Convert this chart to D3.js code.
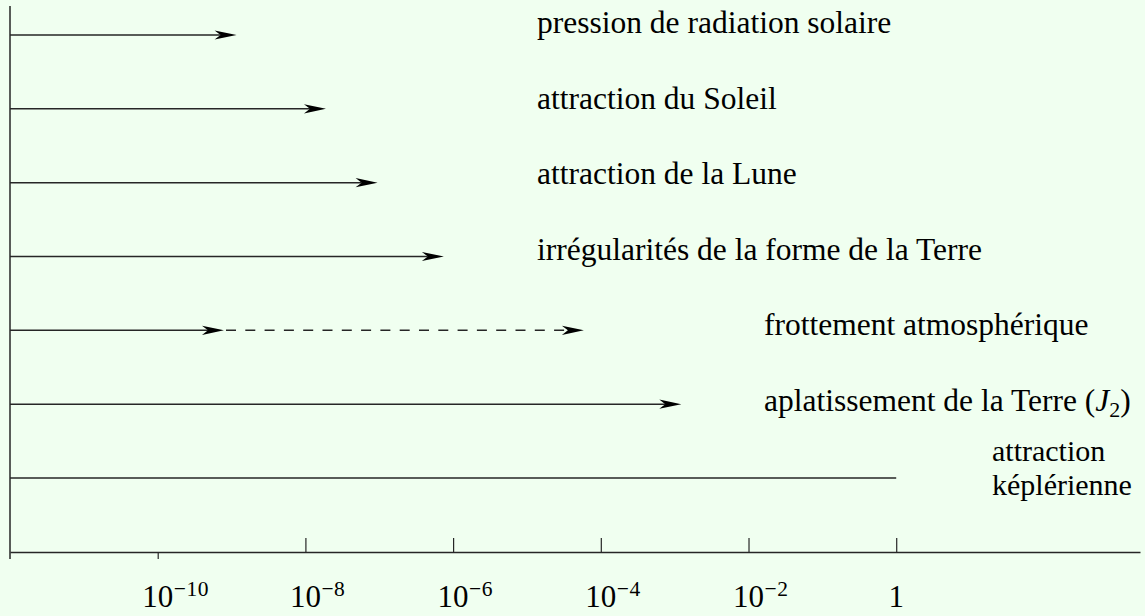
<!DOCTYPE html>
<html>
<head>
<meta charset="utf-8">
<script src="https://cdn.jsdelivr.net/npm/d3@7"></script>
<style>
  html, body { margin: 0; padding: 0; background: #f0fff0; }
  svg { display: block; }
  text { font-family: "Liberation Serif", "Times New Roman", serif; fill: #000; }
</style>
</head>
<body>
<svg id="chart" width="1145" height="616"></svg>
<script>
// Perturbing accelerations on a low Earth satellite, relative to the Keplerian term
const forces = [
  "pression de radiation solaire",
  "attraction du Soleil",
  "attraction de la Lune",
  "irrégularités de la forme de la Terre",
  "frottement atmosphérique",
  "aplatissement de la Terre",
  "attraction képlérienne"
];
// relative magnitude reached by each effect
const magnitudes = [1.17e-9, 1.9e-8, 9.5e-8, 7.5e-7, 7.9e-10, 1.23e-3, 1];
// atmospheric drag varies strongly with altitude: upper bound of its range
const dragUpper = 5.9e-5;

const tickValues = [1e-10, 1e-8, 1e-6, 1e-4, 1e-2, 1];
const tickBases = ["10", "10", "10", "10", "10", "1"];
const tickExponents = ["−10", "−8", "−6", "−4", "−2", ""];

const svg = d3.select("#chart");

const x = d3.scaleLog().domain([1e-12, 2e3]).range([10, 1140]);
const y = d3.scalePoint().domain(forces).range([35, 478]);
const labelY = d3.scalePoint().domain(forces.slice(0, 6)).range([33, 411]);

const axisY = 552;
const lineColor = "#262626";

// vertical baseline
svg.append("line")
  .attr("x1", x(1e-12)).attr("x2", x(1e-12))
  .attr("y1", 6).attr("y2", 559)
  .attr("stroke", lineColor).attr("stroke-width", 1.5);

// horizontal magnitude axis with inward ticks
const axis = d3.axisBottom(x)
  .tickValues(tickValues)
  .tickSizeInner(-14)
  .tickSizeOuter(0)
  .tickFormat("");
const gAxis = svg.append("g").attr("transform", `translate(0,${axisY})`).call(axis);
gAxis.select(".domain").attr("stroke", lineColor).attr("stroke-width", 1.5);
gAxis.selectAll(".tick line").attr("stroke", lineColor).attr("stroke-width", 1.2);
// the first tick crosses the axis
gAxis.selectAll(".tick line").filter((d, i) => i === 0).attr("y2", 7);

// tick labels: base number centred on the tick, exponent as superscript
tickValues.forEach((v, i) => {
  const tx = x(v);
  const base = svg.append("text")
    .attr("x", tx).attr("y", 607)
    .attr("text-anchor", "middle")
    .style("font-size", "31px")
    .text(tickBases[i]);
  if (tickExponents[i]) {
    const w = base.node().getComputedTextLength();
    svg.append("text")
      .attr("x", tx + w / 2 + 0.5).attr("y", 596)
      .style("font-size", "21.5px")
      .style("letter-spacing", "0.6px")
      .text(tickExponents[i]);
  }
});

// arrowhead with a notched back, tip at (tx, ty)
function arrowHead(tx, ty) {
  const L = 22, hw = 4.6, notch = 16;
  return `M${tx},${ty}L${tx - L},${ty - hw}L${tx - notch},${ty}L${tx - L},${ty + hw}Z`;
}

const rows = svg.append("g");
forces.forEach((f, i) => {
  const yy = y(f);
  const tip = x(magnitudes[i]);
  const plain = magnitudes[i] === 1;
  rows.append("line")
    .attr("x1", x(1e-12)).attr("x2", plain ? tip : tip - 16)
    .attr("y1", yy).attr("y2", yy)
    .attr("stroke", lineColor).attr("stroke-width", 1.5);
  if (!plain) {
    rows.append("path").attr("d", arrowHead(tip, yy)).attr("fill", "#000");
  }
  if (f === "frottement atmosphérique") {
    const tip2 = x(dragUpper);
    rows.append("line")
      .attr("x1", tip + 2).attr("x2", tip2 - 16)
      .attr("y1", yy).attr("y2", yy)
      .attr("stroke", lineColor).attr("stroke-width", 1.5)
      .attr("stroke-dasharray", "10,9.3");
    rows.append("path").attr("d", arrowHead(tip2, yy)).attr("fill", "#000");
  }
});

// labels
const labelSize = "31.5px";
forces.slice(0, 4).forEach(f => {
  svg.append("text").attr("x", 537).attr("y", labelY(f))
    .style("font-size", labelSize).text(f);
});
svg.append("text").attr("x", 764).attr("y", labelY(forces[4]))
  .style("font-size", labelSize).text(forces[4]);

const j2 = svg.append("text").attr("x", 764).attr("y", labelY(forces[5]))
  .style("font-size", labelSize);
j2.append("tspan").text(forces[5] + " (");
j2.append("tspan").style("font-style", "italic").text("J");
j2.append("tspan").attr("dy", 6).style("font-size", "22px").text("2");
j2.append("tspan").attr("dy", -6).text(")");

// two-line label for the Keplerian term
const kep = svg.append("text").attr("x", 992).attr("y", 461).style("font-size", "30px");
forces[6].split(" ").forEach((word, i) => {
  kep.append("tspan").attr("x", 992).attr("dy", i === 0 ? 0 : 33.5).text(word);
});
</script>
</body>
</html>
